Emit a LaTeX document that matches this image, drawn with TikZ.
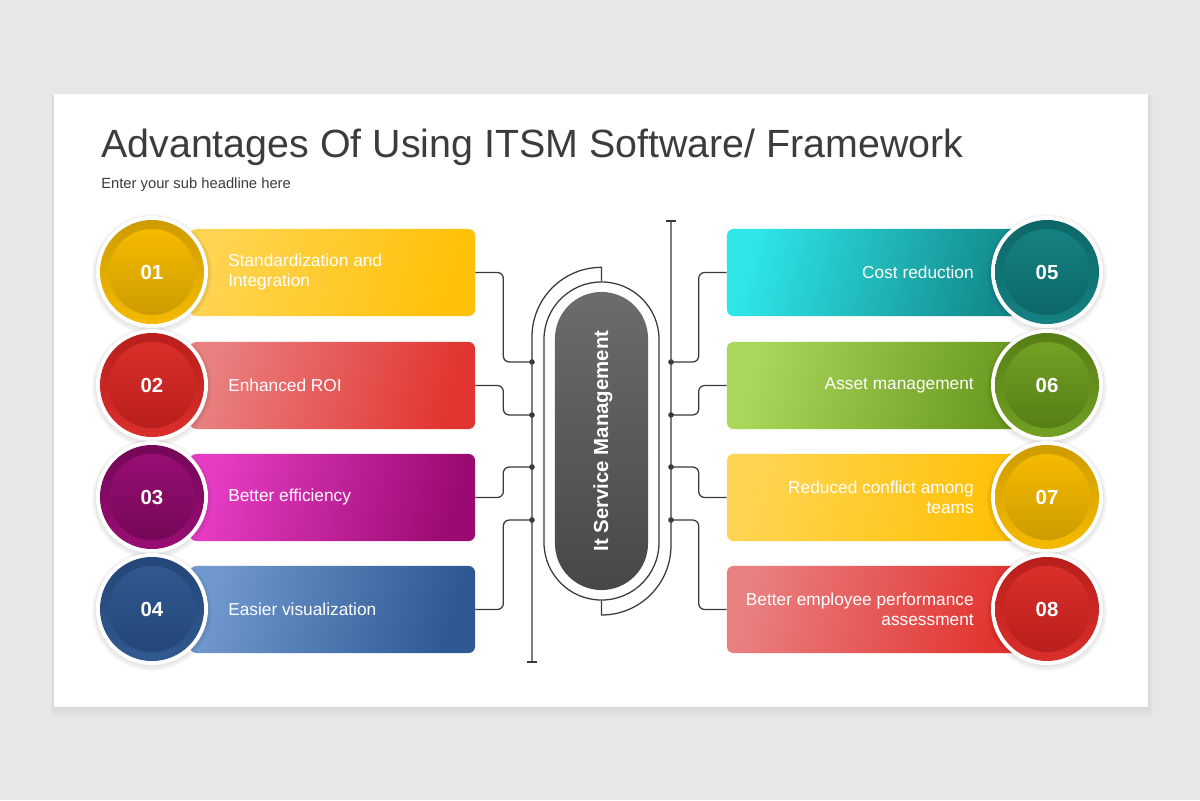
\documentclass[tikz,border=0pt]{standalone}
\usepackage{fontspec}
\setmainfont{Liberation Sans}
\usetikzlibrary{calc}
\definecolor{bgc}{HTML}{E8E6E8}
\definecolor{linec}{HTML}{3A3A3A}
\definecolor{titlec}{HTML}{3C3C3C}
% yellow
\definecolor{yelA}{HTML}{FFD452}\definecolor{yelB}{HTML}{FFC107}
\definecolor{yelD}{HTML}{CE9C00}\definecolor{yelL}{HTML}{F5BA00}
% red
\definecolor{redA}{HTML}{E98080}\definecolor{redB}{HTML}{E23430}
\definecolor{redD}{HTML}{B81F1C}\definecolor{redL}{HTML}{DA2F2B}
% magenta
\definecolor{magA}{HTML}{E63CC4}\definecolor{magB}{HTML}{9A0A70}
\definecolor{magD}{HTML}{740757}\definecolor{magL}{HTML}{980E74}
% blue
\definecolor{bluA}{HTML}{7098CF}\definecolor{bluB}{HTML}{2D5892}
\definecolor{bluD}{HTML}{244678}\definecolor{bluL}{HTML}{30598F}
% cyan
\definecolor{cyaA}{HTML}{2EE6E8}\definecolor{cyaB}{HTML}{138A8C}
\definecolor{cyaD}{HTML}{0D6667}\definecolor{cyaL}{HTML}{158182}
% green
\definecolor{grnA}{HTML}{ABD85C}\definecolor{grnB}{HTML}{6A9A20}
\definecolor{grnD}{HTML}{567E16}\definecolor{grnL}{HTML}{73A024}
% pill
\definecolor{pillT}{HTML}{6C6C6C}\definecolor{pillB}{HTML}{474747}

\tikzset{
  conn/.style={draw=linec, line width=0.9pt, rounded corners=0.15cm},
  busline/.style={draw=linec, line width=0.9pt},
  jdot/.style={circle, fill=linec, inner sep=0pt, minimum size=0.14cm},
  bar/.style={rectangle, rounded corners=0.16cm, minimum height=2.175cm, inner sep=0pt},
  itemtxt/.style={text=white, inner sep=0pt, font=\fontsize{12.3}{14.2}\selectfont},
  numtxt/.style={text=white, inner sep=0pt, font=\bfseries\fontsize{14.5}{16}\selectfont},
}

\newcommand\bubble[6]{%
  \fill[black,opacity=0.03] (#2,#3+2) circle[radius=1.50cm];
  \fill[black,opacity=0.03] (#2,#3+2) circle[radius=1.46cm];
  \fill[black,opacity=0.03] (#2,#3+1) circle[radius=1.43cm];
  \node[circle, fill=white, minimum size=2.8cm, inner sep=0pt] (#1w) at (#2,#3) {};
  \node[circle, top color=#4, bottom color=#5, minimum size=2.6cm, inner sep=0pt] (#1o) at (#2,#3) {};
  \node[circle, top color=#5, bottom color=#4, minimum size=2.15cm, inner sep=0pt] (#1) at (#2,#3) {};
  \node[numtxt] (#1n) at (#1) {#6};
}

\begin{document}
\begin{tikzpicture}[x=0.025cm,y=-0.025cm]
\useasboundingbox (0,0) rectangle (1200,800);
\fill[bgc] (0,0) rectangle (1200,800);
% card shadow (soft)
\foreach \s in {1,...,8}{
  \fill[black,opacity=0.008] (54-0.4*\s,94+0.2*\s) rectangle (1148+0.6*\s,707+1.2*\s);
}
\fill[white] (54,94) rectangle (1148,707);

% title
\node[anchor=base west, inner sep=0pt, text=titlec, font=\fontsize{28}{30}\selectfont] (title) at (101,158) {Advantages Of Using ITSM Software/ Framework};
\node[anchor=base west, inner sep=0pt, text=titlec, font=\fontsize{10.5}{12}\selectfont] (sub) at (101,189) {Enter your sub headline here};

% ---- left bars
\node[bar, minimum width=7.125cm, left color=yelA, right color=yelB, shading angle=75] (L1) at (332.5,272.5) {};
\node[bar, minimum width=7.125cm, left color=redA, right color=redB, shading angle=75] (L2) at (332.5,385.5) {};
\node[bar, minimum width=7.125cm, left color=magA, right color=magB, shading angle=75] (L3) at (332.5,497.5) {};
\node[bar, minimum width=7.125cm, left color=bluA, right color=bluB, shading angle=75] (L4) at (332.5,609.5) {};
% ---- right bars
\node[bar, minimum width=7.325cm, left color=cyaA, right color=cyaB, shading angle=75] (R1) at (873.5,272.5) {};
\node[bar, minimum width=7.325cm, left color=grnA, right color=grnB, shading angle=75] (R2) at (873.5,385.5) {};
\node[bar, minimum width=7.325cm, left color=yelA, right color=yelB, shading angle=75] (R3) at (873.5,497.5) {};
\node[bar, minimum width=7.325cm, left color=redA, right color=redB, shading angle=75] (R4) at (873.5,609.5) {};

% circles
\bubble{c1}{152}{272}{yelD}{yelL}{01}
\bubble{c2}{152}{385}{redD}{redL}{02}
\bubble{c3}{152}{497}{magD}{magL}{03}
\bubble{c4}{152}{609}{bluD}{bluL}{04}
\bubble{c5}{1047}{272}{cyaD}{cyaL}{05}
\bubble{c6}{1047}{385}{grnD}{grnL}{06}
\bubble{c7}{1047}{497}{yelD}{yelL}{07}
\bubble{c8}{1047}{609}{redD}{redL}{08}

% texts
\node[itemtxt, anchor=west, align=left] (t1) at (228,272) {Standardization and\\Integration};
\node[itemtxt, anchor=west, align=left] (t2) at (228,385) {Enhanced ROI};
\node[itemtxt, anchor=west, align=left] (t3) at (228,497) {Better efficiency};
\node[itemtxt, anchor=west, align=left] (t4) at (228,609) {Easier visualization};
\node[itemtxt, anchor=east, align=right] (t5) at (974,272) {Cost reduction};
\node[itemtxt, anchor=east, align=right] (t6) at (974,385) {Asset management};
\node[itemtxt, anchor=east, align=right] (t7) at (974,497) {Reduced conflict among\\teams};
\node[itemtxt, anchor=east, align=right] (t8) at (974,609) {Better employee performance\\assessment};

% ---- center
\node[draw=linec, line width=0.9pt, rectangle, rounded corners=1.4375cm, minimum width=2.875cm, minimum height=7.95cm, inner sep=0pt] (ring) at (601.5,441) {};
\node[rectangle, rounded corners=1.1625cm, minimum width=2.325cm, minimum height=7.45cm, inner sep=0pt, top color=pillT, bottom color=pillB] (pill) at (601.5,441) {};
\node[rotate=90, text=white, inner sep=0pt, font=\bfseries\fontsize{14.5}{16}\selectfont] (ctext) at (603,441) {It Service Management};

% buses
\coordinate (lbot) at (532,662);
\coordinate (rtop) at (671,221);
\draw[busline] (ring.north) -- ++(0,-14) arc[start angle=90, end angle=180, radius=1.7375cm] -- (lbot);
\draw[busline] ($(lbot)+(-5,0)$) -- ($(lbot)+(5,0)$);
\draw[busline] (rtop) -- (671,545.5) arc[start angle=0, end angle=-90, radius=1.7375cm] -- (ring.south);
\draw[busline] ($(rtop)+(-5,0)$) -- ($(rtop)+(5,0)$);

% junctions
\node[jdot] (dl1) at (532,362) {};
\node[jdot] (dl2) at (532,415) {};
\node[jdot] (dl3) at (532,467) {};
\node[jdot] (dl4) at (532,520) {};
\node[jdot] (dr1) at (671,362) {};
\node[jdot] (dr2) at (671,415) {};
\node[jdot] (dr3) at (671,467) {};
\node[jdot] (dr4) at (671,520) {};

% connectors
\draw[conn] (L1.east) -- ++(28,0) |- (dl1.center);
\draw[conn] (L2.east) -- ++(28,0) |- (dl2.center);
\draw[conn] (L3.east) -- ++(28,0) |- (dl3.center);
\draw[conn] (L4.east) -- ++(28,0) |- (dl4.center);
\draw[conn] (R1.west) -- ++(-28,0) |- (dr1.center);
\draw[conn] (R2.west) -- ++(-28,0) |- (dr2.center);
\draw[conn] (R3.west) -- ++(-28,0) |- (dr3.center);
\draw[conn] (R4.west) -- ++(-28,0) |- (dr4.center);
\end{tikzpicture}
\end{document}
